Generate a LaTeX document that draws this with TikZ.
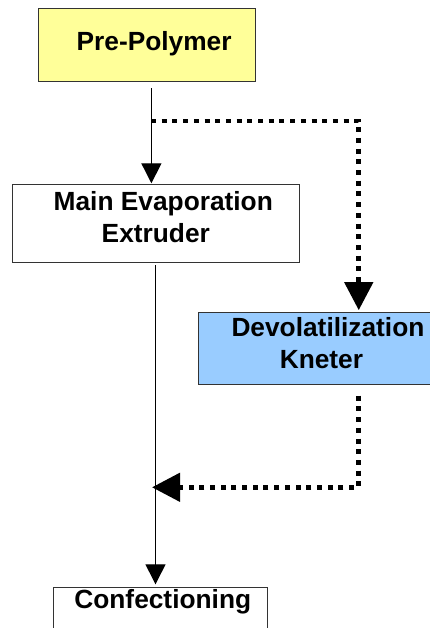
\documentclass[tikz,border=0pt]{standalone}
\usepackage{fontspec}
\setmainfont{Liberation Sans}
\usetikzlibrary{arrows.meta}
\definecolor{prefill}{HTML}{FFFF99}
\definecolor{devfill}{HTML}{99CCFF}
\tikzset{
  box/.style={draw=black!80, line width=0.9pt, inner xsep=0pt, inner ysep=0pt,
    align=center, anchor=north west,
    font=\fontsize{26.3}{31.8}\selectfont\bfseries},
  flow/.style={line width=1.3pt, -{Triangle[length=20pt,width=20pt]}},
  dotflow/.style={line width=4.7pt, dash pattern=on 5pt off 5.7pt,
    -{Triangle[length=28pt,width=28pt]}}
}
\begin{document}
\begin{tikzpicture}[x=1pt,y=-1pt]
\useasboundingbox (0,0) rectangle (430,628);
\clip (0,0) rectangle (430,628);
\node[box, fill=prefill, minimum width=216.7pt] (pre) at (38.3,8.3)
  {\hspace*{14pt}\rule[-31pt]{0pt}{72.7pt}Pre-Polymer};
\node[box, fill=white, minimum width=287.3pt] (main) at (11.7,184.3)
  {\hspace*{15pt}\rule{0pt}{25.7pt}Main Evaporation\\Extruder\rule[-20.6pt]{0pt}{20.6pt}};
\node[box, fill=devfill, minimum width=246pt] (dev) at (198,311.7)
  {\hspace*{13pt}\rule{0pt}{24.3pt}Devolatilization\\Kneter\rule[-16pt]{0pt}{16pt}};
\node[box, fill=white, minimum width=213.4pt] (conf) at (53.3,587.3)
  {\hspace*{4.6pt}\rule[-50pt]{0pt}{71pt}Confectioning};
% solid flow pre -> main
\coordinate (s1) at ([xshift=4.3pt,yshift=-6.3pt]pre.south);
\draw[flow, shorten >=1pt] (s1) -- (s1 |- main.north);
% dotted branch to devolatilization
\coordinate (br) at (151,121);
\draw[dotflow, shorten >=1.5pt] (br) -| ([xshift=37.3pt]dev.north);
% dotted return from devolatilization
\coordinate (mj) at (152,487.3);
\draw[dotflow] ([xshift=37.3pt,yshift=-11pt]dev.south) |- (mj);
% solid flow main -> confectioning
\draw[flow, shorten <=2pt, shorten >=3pt] ([xshift=-0.3pt]main.south) -- ([xshift=-0.3pt]main.south |- conf.north);
\end{tikzpicture}
\end{document}
